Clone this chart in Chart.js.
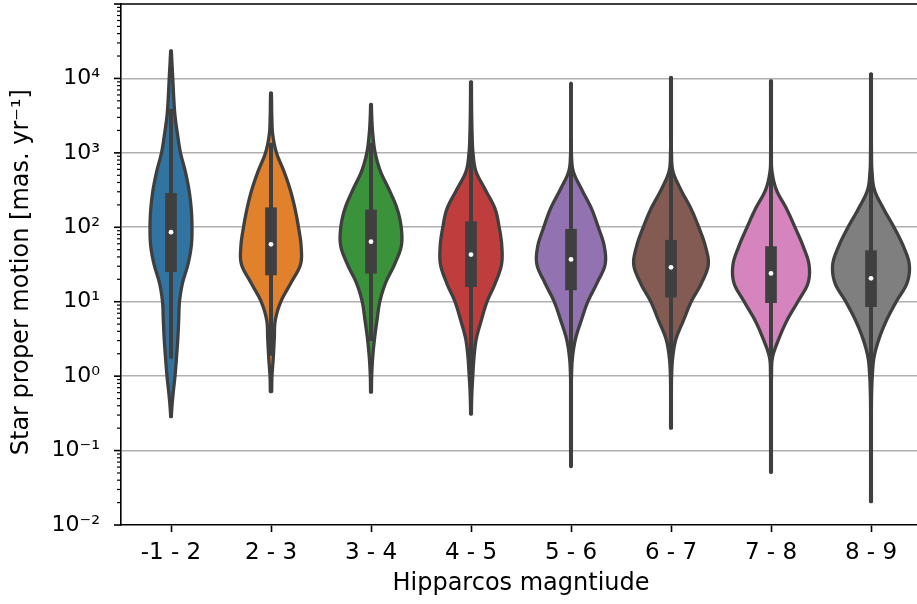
<!DOCTYPE html>
<html>
<head>
<meta charset="utf-8">
<script src="https://cdn.jsdelivr.net/npm/chart.js@4/dist/chart.umd.min.js"></script>
<style>
  html, body { margin: 0; padding: 0; overflow: hidden; background: #fff; }
  canvas { display: block; }
</style>
</head>
<body>
<canvas id="violinChart" width="930" height="604"></canvas>
<script>
// magnitude bins and seaborn (desaturated) palette
const categories = ['-1 - 2', '2 - 3', '3 - 4', '4 - 5', '5 - 6', '6 - 7', '7 - 8', '8 - 9'];
const colors = ['#3274a1', '#e1812c', '#3a923a', '#c03d3e', '#9372b2', '#845b53', '#d684bd', '#7f7f7f'];

// inner box summary, mas/yr
const medians = [86, 59, 64, 43, 37, 29, 24, 20.6];
const q1 = [25.3, 22.9, 24.1, 15.9, 14.4, 11.5, 9.7, 8.6];
const q3 = [286, 183, 171, 119, 94, 67, 55, 48.5];
const whiskerLow = [1.74, 1.9, 3.0, 0.8, 0.86, 0.8, 0.72, 0.64];
const whiskerHigh = [3850, 1350, 1350, 2400, 1570, 960, 740, 650];

// extent of each violin
const dataMin = [0.285, 0.62, 0.61, 0.31, 0.061, 0.2, 0.051, 0.0206];
const dataMax = [23500, 6400, 4490, 9000, 8600, 10300, 9300, 11500];

// log10(motion) levels where the violin half-width was read (fraction of one category slot)
const densityLevels = [-2, -1.75, -1.5, -1.25, -1, -0.75, -0.5, -0.25, 0, 0.25, 0.5, 0.75, 1, 1.25, 1.5, 1.75, 2, 2.25, 2.5, 2.75, 3, 3.25, 3.5, 3.75, 4, 4.25, 4.5];
const widthsBlue   = [0, 0, 0, 0, 0, 0, 0.005, 0.02, 0.04, 0.055, 0.068, 0.077, 0.085, 0.115, 0.169, 0.203, 0.21, 0.202, 0.18, 0.143, 0.095, 0.065, 0.04, 0.027, 0.018, 0.008, 0];
const widthsOrange = [0, 0, 0, 0, 0, 0, 0, 0.006, 0.01, 0.023, 0.033, 0.043, 0.098, 0.198, 0.295, 0.301, 0.275, 0.24, 0.193, 0.13, 0.055, 0.017, 0.008, 0.005, 0, 0, 0];
const widthsGreen  = [0, 0, 0, 0, 0, 0, 0, 0.004, 0.007, 0.017, 0.035, 0.06, 0.088, 0.145, 0.235, 0.303, 0.302, 0.261, 0.183, 0.095, 0.042, 0.018, 0.007, 0.003, 0, 0, 0];
const widthsRed    = [0, 0, 0, 0, 0, 0.004, 0.004, 0.008, 0.018, 0.03, 0.053, 0.103, 0.16, 0.243, 0.305, 0.308, 0.282, 0.24, 0.145, 0.05, 0.02, 0.011, 0.007, 0.005, 0.004, 0, 0];
const widthsPurple = [0, 0, 0, 0.003, 0.004, 0.004, 0.004, 0.004, 0.005, 0.015, 0.045, 0.103, 0.168, 0.26, 0.341, 0.332, 0.273, 0.205, 0.11, 0.023, 0.004, 0.003, 0.003, 0.003, 0.003, 0, 0];
const widthsBrown  = [0, 0, 0, 0, 0, 0.004, 0.004, 0.004, 0.006, 0.017, 0.05, 0.125, 0.202, 0.305, 0.373, 0.343, 0.278, 0.2, 0.1, 0.02, 0.005, 0.004, 0.004, 0.004, 0.004, 0.004, 0];
const widthsPink   = [0, 0, 0.004, 0.004, 0.004, 0.004, 0.004, 0.004, 0.005, 0.015, 0.078, 0.16, 0.268, 0.37, 0.38, 0.32, 0.24, 0.155, 0.055, 0.01, 0.004, 0.004, 0.004, 0.004, 0.004, 0, 0];
const widthsGray   = [0, 0.004, 0.004, 0.004, 0.004, 0.004, 0.004, 0.006, 0.013, 0.03, 0.08, 0.155, 0.252, 0.36, 0.383, 0.322, 0.23, 0.125, 0.035, 0.01, 0.005, 0.004, 0.004, 0.004, 0.004, 0.004, 0];
const violinWidths = [widthsBlue, widthsOrange, widthsGreen, widthsRed, widthsPurple, widthsBrown, widthsPink, widthsGray];

// y axis
const yTickValues = [0.01, 0.1, 1, 10, 100, 1000, 10000];
const yTickLabels = ['10\u207B\u00B2', '10\u207B\u00B9', '10\u2070', '10\u00B9', '10\u00B2', '10\u00B3', '10\u2074'];
const yMin = 0.01, yMax = 100000;

const FONT = "'DejaVu Sans'";
const OUTLINE = '#3f3f3f';

function isDecade(v) {
    const l = Math.log10(v);
    return Math.abs(l - Math.round(l)) < 1e-9;
}

// catmull-rom along the read levels
function widthAt(w, L) {
    const n = densityLevels.length;
    if (L <= densityLevels[0]) return w[0];
    if (L >= densityLevels[n - 1]) return w[n - 1];
    let k = 0;
    while (k < n - 2 && L > densityLevels[k + 1]) k++;
    const t = (L - densityLevels[k]) / (densityLevels[k + 1] - densityLevels[k]);
    const p0 = k > 0 ? w[k - 1] : w[k];
    const p1 = w[k], p2 = w[k + 1];
    const p3 = k + 2 < n ? w[k + 2] : w[k + 1];
    const v = 0.5 * (2 * p1 + (-p0 + p2) * t + (2 * p0 - 5 * p1 + 4 * p2 - p3) * t * t + (-p0 + 3 * p1 - 3 * p2 + p3) * t * t * t);
    return Math.max(0, v);
}

const violinPlugin = {
    id: 'violins',
    beforeDatasetsDraw(chart) {
        const { ctx, scales: { x, y } } = chart;
        const slot = x.getPixelForValue(1) - x.getPixelForValue(0);
        ctx.save();
        categories.forEach((cat, i) => {
            const cx = x.getPixelForValue(i);
            const lo = Math.log10(dataMin[i]);
            const hi = Math.log10(dataMax[i]);
            const pts = [];
            for (let L = lo; L < hi; L += 0.005) {
                pts.push([L, widthAt(violinWidths[i], L)]);
            }
            ctx.beginPath();
            ctx.moveTo(cx, y.getPixelForValue(Math.pow(10, lo)));
            pts.forEach(p => ctx.lineTo(cx + p[1] * slot, y.getPixelForValue(Math.pow(10, p[0]))));
            ctx.lineTo(cx, y.getPixelForValue(Math.pow(10, hi)));
            for (let j = pts.length - 1; j >= 0; j--) {
                ctx.lineTo(cx - pts[j][1] * slot, y.getPixelForValue(Math.pow(10, pts[j][0])));
            }
            ctx.closePath();
            ctx.fillStyle = colors[i];
            ctx.fill();
            ctx.lineWidth = 3.3;
            ctx.lineJoin = 'round';
            ctx.strokeStyle = OUTLINE;
            ctx.stroke();
        });
        ctx.restore();
    },
    afterDraw(chart) {
        const { ctx, chartArea, scales: { y } } = chart;
        ctx.save();
        // top and right spines
        ctx.strokeStyle = '#000';
        ctx.lineWidth = 1.6;
        ctx.beginPath();
        ctx.moveTo(chartArea.left - 0.8, chartArea.top);
        ctx.lineTo(chartArea.right, chartArea.top);
        ctx.lineTo(chartArea.right, chartArea.bottom);
        ctx.stroke();
        // major and minor ticks on the log axis
        y.ticks.forEach(t => {
            const py = y.getPixelForValue(t.value);
            const major = isDecade(t.value);
            ctx.lineWidth = major ? 1.6 : 1.2;
            ctx.beginPath();
            ctx.moveTo(chartArea.left - (major ? 7 : 4), py);
            ctx.lineTo(chartArea.left, py);
            ctx.stroke();
        });
        ctx.restore();
    }
};

const ctx = document.getElementById('violinChart').getContext('2d');

new Chart(ctx, {
    type: 'bar',
    data: {
        labels: categories,
        datasets: [
            {
                type: 'line',
                data: medians,
                showLine: false,
                pointRadius: 2.4,
                pointBorderWidth: 0,
                pointBackgroundColor: '#ffffff',
                order: 0
            },
            {
                data: q1.map((v, i) => [v, q3[i]]),
                backgroundColor: OUTLINE,
                barThickness: 11,
                grouped: false,
                order: 1
            },
            {
                data: whiskerLow.map((v, i) => [v, whiskerHigh[i]]),
                backgroundColor: OUTLINE,
                barThickness: 3.3,
                grouped: false,
                order: 2
            }
        ]
    },
    options: {
        responsive: false,
        animation: false,
        devicePixelRatio: 1,
        layout: { padding: { top: 4, right: 9, left: 0, bottom: 0 } },
        plugins: {
            legend: { display: false },
            tooltip: { enabled: false }
        },
        scales: {
            x: {
                type: 'category',
                offset: true,
                afterFit: s => { s.height = 79; s.paddingLeft = 0; s.paddingRight = 0; },
                grid: { offset: false, drawOnChartArea: false, tickLength: 7, tickColor: '#000', tickWidth: 1.6 },
                border: { color: '#000', width: 1.6 },
                ticks: { padding: 7.5, color: '#000', font: { family: FONT, size: 23 } },
                title: {
                    display: true,
                    text: 'Hipparcos magntiude',
                    color: '#000',
                    font: { family: FONT, size: 24 },
                    padding: { top: 0, bottom: 5.6 }
                }
            },
            y: {
                type: 'logarithmic',
                min: yMin,
                max: yMax,
                afterFit: s => { s.width = 121; s.paddingTop = 0; s.paddingBottom = 0; },
                afterBuildTicks: s => {
                    const vals = [];
                    for (let e = -2; e <= 4; e++) {
                        for (let d = 1; d <= 9; d++) vals.push(d * Math.pow(10, e));
                    }
                    vals.push(yMax);
                    s.ticks = vals.map(v => ({ value: v, major: isDecade(v) }));
                },
                grid: {
                    color: c => (c.tick && isDecade(c.tick.value) && c.tick.value > yMin && c.tick.value < yMax) ? '#b0b0b0' : 'rgba(0,0,0,0)',
                    lineWidth: 1.6,
                    tickLength: 7,
                    tickColor: 'rgba(0,0,0,0)'
                },
                border: { color: '#000', width: 1.6 },
                ticks: {
                    autoSkip: false,
                    padding: 14,
                    color: '#000',
                    font: { family: FONT, size: 22 },
                    callback: v => {
                        const k = yTickValues.findIndex(t => Math.abs(Math.log10(t) - Math.log10(v)) < 1e-9);
                        return k >= 0 ? yTickLabels[k] : '';
                    }
                },
                title: {
                    display: true,
                    // two trailing spaces keep the label centred like the original mathtext one
                    text: 'Star proper motion [mas. yr\u207B\u00B9]  ',
                    color: '#000',
                    font: { family: FONT, size: 24 },
                    padding: { top: 7.6, bottom: 0 }
                }
            }
        }
    },
    plugins: [violinPlugin]
});
</script>
</body>
</html>
